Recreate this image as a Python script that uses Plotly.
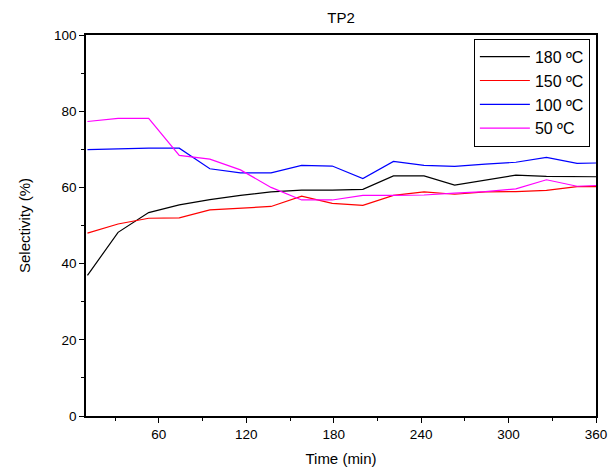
import plotly.graph_objects as go

time_min = [11, 32, 53, 74, 95, 116, 137, 158, 179, 200, 221, 242, 263, 284, 305, 326, 347, 360]
sel_180 = [36.9, 48.2, 53.4, 55.4, 56.8, 57.9, 58.8, 59.3, 59.3, 59.5, 63.0, 63.0, 60.6, 61.9, 63.2, 62.9, 62.8, 62.8]
sel_150 = [48.0, 50.4, 51.9, 52.0, 54.1, 54.5, 55.0, 57.7, 55.8, 55.3, 57.9, 58.8, 58.2, 58.8, 58.9, 59.2, 60.2, 60.2]
sel_100 = [69.9, 70.1, 70.3, 70.3, 64.9, 63.8, 63.8, 65.8, 65.6, 62.3, 66.8, 65.8, 65.5, 66.1, 66.6, 67.9, 66.3, 66.4]
sel_50 = [77.3, 78.1, 78.1, 68.4, 67.4, 64.6, 60.0, 56.7, 56.7, 57.9, 57.9, 58.0, 58.5, 58.9, 59.6, 62.0, 60.3, 60.5]

series_names = ["180 ºC", "150 ºC", "100 ºC", "50 ºC"]
series_values = [sel_180, sel_150, sel_100, sel_50]
series_colors = ["#000000", "#ff0000", "#0000ff", "#ff00ff"]

x_ticks = [60, 120, 180, 240, 300, 360]
y_ticks = [0, 20, 40, 60, 80, 100]

fig = go.Figure()
for name, vals, col in zip(series_names, series_values, series_colors):
    fig.add_trace(go.Scatter(x=time_min, y=vals, mode="lines", name=name,
                             line=dict(color=col, width=1.2)))

font_family = "Liberation Sans, Arial, sans-serif"
fig.update_layout(
    width=611, height=474, autosize=False,
    margin=dict(l=86, r=15, t=35, b=58),
    paper_bgcolor="white", plot_bgcolor="white",
    font=dict(family=font_family, color="black"),
    title=dict(text="TP2", x=0.5, xref="paper", xanchor="center",
               y=1 - 18 / 474, yanchor="middle", font=dict(size=15)),
    showlegend=True,
    legend=dict(x=0.988, y=0.99, xanchor="right", yanchor="top",
                bgcolor="white", bordercolor="black", borderwidth=1,
                font=dict(size=16), tracegroupgap=0, itemwidth=50),
)
fig.update_xaxes(
    range=[10, 360], tickvals=x_ticks, ticktext=[str(v) for v in x_ticks],
    showgrid=False, zeroline=False, automargin=False,
    showline=True, linecolor="black", linewidth=1.5, mirror=True,
    ticks="outside", ticklen=5, tickwidth=1.2, tickcolor="black",
    minor=dict(tickvals=[30, 90, 150, 210, 270, 330], ticks="outside", ticklen=3,
               tickwidth=1.2, tickcolor="black"),
    tickfont=dict(size=13.5),
    title=dict(text="Time (min)", font=dict(size=15), standoff=13),
)
fig.update_yaxes(
    range=[0, 100], tickvals=y_ticks, ticktext=[str(v) for v in y_ticks],
    showgrid=False, zeroline=False, automargin=False,
    showline=True, linecolor="black", linewidth=1.5, mirror=True,
    ticks="outside", ticklen=5, tickwidth=1.2, tickcolor="black",
    minor=dict(tickvals=[10, 30, 50, 70, 90], ticks="outside", ticklen=3,
               tickwidth=1.2, tickcolor="black"),
    tickfont=dict(size=13.5),
    title=dict(text="Selectivity (%)", font=dict(size=15), standoff=20),
)

fig.write_html(
    "out.html",
    config={"displayModeBar": False, "responsive": False},
    post_script="document.body.style.margin='0';document.body.style.padding='0';"
                "document.body.style.overflow='hidden';document.documentElement.style.overflow='hidden';",
)
